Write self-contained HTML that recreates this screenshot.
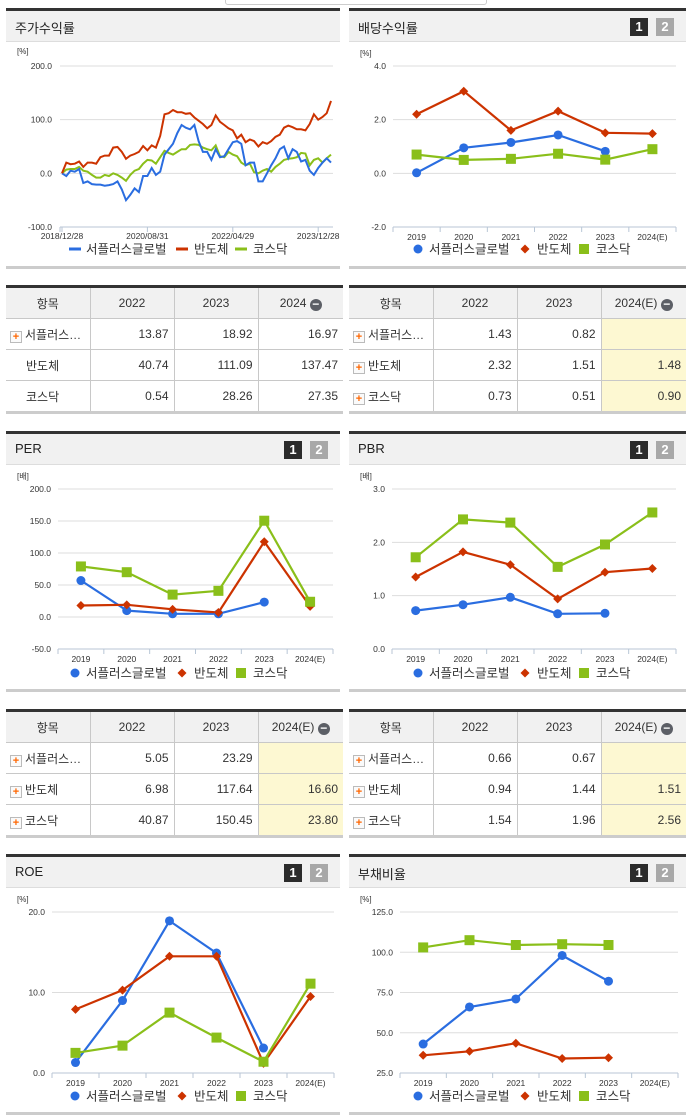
<!DOCTYPE html>
<html><head><meta charset="utf-8">
<style>
body{margin:0;width:691px;height:1115px;background:#fff;position:relative;overflow:hidden;font-family:"Liberation Sans","Noto Sans CJK KR",sans-serif;}
.panel{position:absolute;border-top:3px solid #333;border-bottom:3px solid #ccc;box-sizing:border-box;}
.hdr{height:30px;background:#f1f1f1;border-bottom:1px solid #ddd;position:relative;}
.hdr .t{position:absolute;left:9px;top:7px;font-size:13px;color:#222;}
.b1,.b2{position:absolute;top:7px;width:18px;height:18px;color:#fff;font-size:13px;font-weight:bold;text-align:center;line-height:18px;}
.b1{background:#2b2b2b;right:38px}.b2{background:#a8a8a8;right:12px}
table{position:absolute;border-collapse:collapse;font-size:12px;color:#333;table-layout:fixed;border-top:3px solid #333;border-bottom:3px solid #ccc;}
td,th{border:1px solid #c8c8c8;height:30px;padding:0 5px;}
th{background:#f1f1f1;font-weight:normal;text-align:center;}
tr td:first-child,tr th:first-child{border-left:none}
tr td:last-child,tr th:last-child{border-right:none}
td{text-align:right}
td.n{text-align:left;padding-left:4px;white-space:nowrap;overflow:hidden}
.pl{display:inline-block;width:10px;height:10px;border:1px solid #bbb;background:#fafafa;color:#f60;font-size:11px;line-height:10px;text-align:center;font-weight:bold;vertical-align:-1px;margin-right:3px}
.y{background:#fdf8d2}
.mi{display:inline-block;width:12px;height:12px;border-radius:6px;background:#5c5f66;color:#fff;line-height:11px;font-size:12px;font-weight:bold;vertical-align:-1px}
svg{position:absolute;left:0;top:0}
</style></head><body>
<div style="position:absolute;left:225px;top:-4px;width:260px;height:7px;border:1px solid #ccc;border-radius:3px"></div>

<div class="panel" style="left:6px;top:8px;width:334px;height:261px"><div class="hdr"><span class="t">주가수익률</span></div></div>
<div class="panel" style="left:349px;top:8px;width:337px;height:261px"><div class="hdr"><span class="t">배당수익률</span><span class="b1">1</span><span class="b2">2</span></div></div>
<div class="panel" style="left:6px;top:431px;width:334px;height:261px"><div class="hdr"><span class="t">PER</span><span class="b1">1</span><span class="b2">2</span></div></div>
<div class="panel" style="left:349px;top:431px;width:337px;height:261px"><div class="hdr"><span class="t">PBR</span><span class="b1">1</span><span class="b2">2</span></div></div>
<div class="panel" style="left:6px;top:854px;width:334px;height:261px"><div class="hdr"><span class="t">ROE</span><span class="b1">1</span><span class="b2">2</span></div></div>
<div class="panel" style="left:349px;top:854px;width:337px;height:261px"><div class="hdr"><span class="t">부채비율</span><span class="b1">1</span><span class="b2">2</span></div></div>

<table style="left:6px;top:285px;width:337px">
<colgroup><col style="width:84px"><col style="width:84px"><col style="width:84px"><col></colgroup>
<tr><th>항목</th><th>2022</th><th>2023</th><th>2024 <span class="mi">−</span></th></tr>
<tr><td class="n"><span class="pl">+</span>서플러스…</td><td>13.87</td><td>18.92</td><td>16.97</td></tr>
<tr><td class="n" style="padding-left:20px">반도체</td><td>40.74</td><td>111.09</td><td>137.47</td></tr>
<tr><td class="n" style="padding-left:20px">코스닥</td><td>0.54</td><td>28.26</td><td>27.35</td></tr>
</table>
<table style="left:349px;top:285px;width:337px">
<colgroup><col style="width:84px"><col style="width:84px"><col style="width:84px"><col></colgroup>
<tr><th>항목</th><th>2022</th><th>2023</th><th>2024(E) <span class="mi">−</span></th></tr>
<tr><td class="n"><span class="pl">+</span>서플러스…</td><td>1.43</td><td>0.82</td><td class="y"></td></tr>
<tr><td class="n"><span class="pl">+</span>반도체</td><td>2.32</td><td>1.51</td><td class="y">1.48</td></tr>
<tr><td class="n"><span class="pl">+</span>코스닥</td><td>0.73</td><td>0.51</td><td class="y">0.90</td></tr>
</table>
<table style="left:6px;top:709px;width:337px">
<colgroup><col style="width:84px"><col style="width:84px"><col style="width:84px"><col></colgroup>
<tr><th>항목</th><th>2022</th><th>2023</th><th>2024(E) <span class="mi">−</span></th></tr>
<tr><td class="n"><span class="pl">+</span>서플러스…</td><td>5.05</td><td>23.29</td><td class="y"></td></tr>
<tr><td class="n"><span class="pl">+</span>반도체</td><td>6.98</td><td>117.64</td><td class="y">16.60</td></tr>
<tr><td class="n"><span class="pl">+</span>코스닥</td><td>40.87</td><td>150.45</td><td class="y">23.80</td></tr>
</table>
<table style="left:349px;top:709px;width:337px">
<colgroup><col style="width:84px"><col style="width:84px"><col style="width:84px"><col></colgroup>
<tr><th>항목</th><th>2022</th><th>2023</th><th>2024(E) <span class="mi">−</span></th></tr>
<tr><td class="n"><span class="pl">+</span>서플러스…</td><td>0.66</td><td>0.67</td><td class="y"></td></tr>
<tr><td class="n"><span class="pl">+</span>반도체</td><td>0.94</td><td>1.44</td><td class="y">1.51</td></tr>
<tr><td class="n"><span class="pl">+</span>코스닥</td><td>1.54</td><td>1.96</td><td class="y">2.56</td></tr>
</table>

<svg id="s" width="691" height="1115"></svg>
<script>
// ---- data ----
const years = ["2019","2020","2021","2022","2023","2024(E)"];
const divBlue = [0.02,0.95,1.15,1.43,0.82,null];
const divRed = [2.2,3.06,1.6,2.32,1.51,1.48];
const divGreen = [0.7,0.5,0.54,0.73,0.51,0.90];
const perBlue = [57,10,5,5.05,23.29,null];
const perRed = [18,19,12,6.98,117.64,16.6];
const perGreen = [79,70,35,40.87,150.45,23.8];
const pbrBlue = [0.72,0.83,0.97,0.66,0.67,null];
const pbrRed = [1.35,1.82,1.58,0.94,1.44,1.51];
const pbrGreen = [1.72,2.43,2.37,1.54,1.96,2.56];
const roeBlue = [1.3,9.0,18.9,14.9,3.1,null];
const roeRed = [7.9,10.3,14.5,14.5,1.2,9.5];
const roeGreen = [2.5,3.4,7.5,4.4,1.4,11.1];
const debtBlue = [43,66,71,98,82,null];
const debtRed = [36,38.5,43.5,34,34.5,null];
const debtGreen = [103,107.5,104.5,105,104.5,null];
const retDates = ["2018/12/28","2020/08/31","2022/04/29","2023/12/28"];
const retRed = [0,20,17,18,22,12,20,20,18,30,33,33,48,49,40,27,33,36,40,51,43,52,48,70,110,112,118,114,114,111,112,104,98,92,84,90,108,96,90,84,80,65,72,58,63,60,50,58,55,60,68,72,85,89,86,82,82,80,92,110,100,105,112,135];
const retBlue = [0,-5,5,3,8,-18,-15,-20,-21,-21,-23,-22,-20,-15,-30,-50,-40,-28,-35,-5,-5,10,-3,3,35,45,55,75,90,85,82,90,60,40,40,25,45,30,32,45,58,60,55,15,20,20,-15,-15,0,15,28,45,50,28,45,40,22,25,5,-3,10,20,28,20];
const retGreen = [0,7,8,8,12,5,3,-3,-8,-8,-3,-5,0,-3,-8,-14,-3,5,8,18,25,24,18,30,42,38,35,40,45,45,53,54,53,48,45,43,52,32,30,40,35,32,20,15,18,2,0,5,8,3,12,18,25,27,28,30,38,37,15,25,28,20,28,35];

const NS="http://www.w3.org/2000/svg";
const svg=document.getElementById('s');
const BLUE="#2a6de0",RED="#cc3300",GREEN="#8abf1a";
function mk(tag,attrs,txt){const e=document.createElementNS(NS,tag);for(const k in attrs)e.setAttribute(k,attrs[k]);if(txt!==undefined)e.textContent=txt;svg.appendChild(e);return e;}
function fmt(v){return v.toFixed(1);}

function legend(px,y,markers){
  const names=["서플러스글로벌","반도체","코스닥"],cols=[BLUE,RED,GREEN],offs=[[69,80],[176,188],[235,247]];
  for(let i=0;i<3;i++){
    const cx=px+offs[i][0];
    if(!markers){const l=mk('line',{x1:cx-6,x2:cx+6,y1:y,y2:y,stroke:cols[i],'stroke-width':3});
      }
    else marker(i,cx,y,cols[i]);
    const t=mk('text',{x:px+offs[i][1],y:y+4.5,'font-size':12.5,fill:'#333'},names[i]);
    
    
  }
}
function marker(i,x,y,c){
  let e;
  if(i===0)e=mk('circle',{cx:x,cy:y,r:4.5,fill:c});
  else if(i===1)e=mk('path',{d:`M${x} ${y-4.5}L${x+4.5} ${y}L${x} ${y+4.5}L${x-4.5} ${y}Z`,fill:c});
  else e=mk('rect',{x:x-5,y:y-5,width:10,height:10,fill:c});
  
  
}
function catChart(o){
  const {x0,x1,yTop,yBot,min,max,step,unit,series,px,legendY}=o;
  const ys=v=>yBot-(v-min)/(max-min)*(yBot-yTop);
  const cw=(x1-x0)/years.length;const xs=i=>x0+cw*(i+0.5);
  const u=mk('text',{x:px+11,y:yTop-10,'font-size':8,fill:'#333'},unit);
  
  for(let v=min;v<=max+1e-9;v+=step){
    const y=ys(v);
    if(v>min){const g=mk('line',{x1:x0,x2:x1,y1:y,y2:y,stroke:'#ddd'});}
    const t=mk('text',{x:x0-7,y:y+3,'font-size':8.5,fill:'#333','text-anchor':'end'},fmt(v));
    
  }
  const ax=mk('line',{x1:x0,x2:x1,y1:yBot,y2:yBot,stroke:'#b8c6d6'});
  for(let i=0;i<=years.length;i++){mk('line',{x1:x0+cw*i,x2:x0+cw*i,y1:yBot,y2:yBot+5,stroke:'#b8c6d6'});}
  years.forEach((yr,i)=>{const t=mk('text',{x:xs(i),y:yBot+13,'font-size':8.5,fill:'#333','text-anchor':'middle'},yr);
    });
  const cols=[BLUE,RED,GREEN];
  series.forEach((s,si)=>{
    let d='';s.forEach((v,i)=>{if(v===null)return;d+=(d?'L':'M')+xs(i).toFixed(1)+' '+ys(v).toFixed(1);});
    const p=mk('path',{d,fill:'none',stroke:cols[si],'stroke-width':2.2});
    
  });
  series.forEach((s,si)=>s.forEach((v,i)=>{if(v!==null)marker(si,xs(i),ys(v),cols[si]);}));
  legend(px,legendY,true);
}
// stock return chart
(function(){
  const x0=60,x1=333,yTop=66,yBot=227,min=-100,max=200,px=6,pStart=62,pEnd=331;
  const ys=v=>yBot-(v-min)/(max-min)*(yBot-yTop);
  const n=retRed.length;const xs=i=>pStart+(pEnd-pStart)*i/(n-1);
  const u=mk('text',{x:17,y:54,'font-size':8,fill:'#333'},'[%]');
  
  for(let v=min;v<=max;v+=100){const y=ys(v);
    if(v>min){const g=mk('line',{x1:x0,x2:x1,y1:y,y2:y,stroke:'#ddd'});}
    const t=mk('text',{x:52,y:y+3,'font-size':8.5,fill:'#333','text-anchor':'end'},fmt(v));
    }
  mk('line',{x1:x0,x2:x1,y1:yBot,y2:yBot,stroke:'#b8c6d6'});
  mk('line',{x1:x0,x2:x0,y1:yBot,y2:yBot+5,stroke:'#b8c6d6'});
  const monthsPer=(pEnd-pStart)/(n-1);
  const tickMonths=[0,20,40,60];
  retDates.forEach((d,i)=>{const x=pStart+tickMonths[i]*monthsPer;
    mk('line',{x1:x,x2:x,y1:yBot,y2:yBot+5,stroke:'#b8c6d6'});
    const t=mk('text',{x:x,y:yBot+12,'font-size':8.5,fill:'#333','text-anchor':'middle'},d);
    });
  [[retGreen,GREEN],[retBlue,BLUE],[retRed,RED]].forEach(([s,c])=>{
    const d=s.map((v,i)=>(i?'L':'M')+xs(i).toFixed(1)+' '+ys(v).toFixed(1)).join('');
    const p=mk('path',{d,fill:'none',stroke:c,'stroke-width':2});
    });
  legend(px,249,false);
})();
catChart({x0:393,x1:676,yTop:66,yBot:227,min:-2,max:4,step:2,unit:'[%]',series:[divBlue,divRed,divGreen],px:349,legendY:249});
catChart({x0:58,x1:333,yTop:489,yBot:649,min:-50,max:200,step:50,unit:'[배]',series:[perBlue,perRed,perGreen],px:6,legendY:673});
catChart({x0:392,x1:676,yTop:489,yBot:649,min:0,max:3,step:1,unit:'[배]',series:[pbrBlue,pbrRed,pbrGreen],px:349,legendY:673});
catChart({x0:52,x1:334,yTop:912,yBot:1073,min:0,max:20,step:10,unit:'[%]',series:[roeBlue,roeRed,roeGreen],px:6,legendY:1096});
catChart({x0:400,x1:678,yTop:912,yBot:1073,min:25,max:125,step:25,unit:'[%]',series:[debtBlue,debtRed,debtGreen],px:349,legendY:1096});
</script>
</body></html>
